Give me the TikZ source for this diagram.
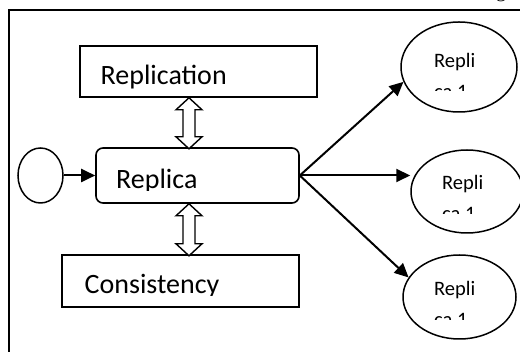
\documentclass[tikz,border=0pt]{standalone}
\usepackage{fontspec}
\setmainfont{Carlito}
\newfontfamily\serifg{Liberation Serif}
\usetikzlibrary{arrows.meta,shapes.geometric,calc}
\tikzset{
  frame/.style={line width=1.9pt},
  boxnode/.style={draw,line width=1.6pt,inner sep=0pt,minimum width=237pt},
  roundbox/.style={draw,line width=1.6pt,inner sep=0pt,rounded corners=7pt},
  oval/.style={draw,ellipse,line width=1.5pt,inner sep=0pt},
  bigtext/.style={inner sep=0pt,anchor=base west,font=\fontsize{28}{34}\selectfont},
  smalltext/.style={inner sep=0pt,anchor=base west,font=\fontsize{20.5}{25}\selectfont},
  flow/.style={line width=2pt,-{Triangle[length=14pt,width=13pt]}},
  hollow/.style={draw,line width=1.4pt,fill=white,line join=miter}
}
\begin{document}
\begin{tikzpicture}[x=1pt,y=1pt]
\useasboundingbox (0,0) rectangle (520,352);
\clip (0,0) rectangle (520,352);
% frame
\coordinate (fb) at (9,-5);
\coordinate (fc) at (9,342);
\coordinate (fr) at (530,342);
\draw[frame] (fb) -- (fc) -- (fr);
\node[inner sep=0pt,anchor=base west,font=\serifg\fontsize{20}{24}\selectfont] (gtxt) at (496,354.5) {g};
% boxes
\node[boxnode,minimum height=51pt] (replication) at (198.5,280.5) {};
\node[roundbox,minimum width=203pt,minimum height=55pt] (replica) at (197.5,176.5) {};
\node[boxnode,minimum height=52pt] (consistency) at (180.5,71) {};
% ovals
\node[oval,minimum width=45pt,minimum height=55pt] (src) at (40.5,176.5) {};
\node[oval,minimum width=116pt,minimum height=90pt] (e1) at (459,285) {};
\node[oval,minimum width=112pt,minimum height=83pt] (e2) at (467,160.5) {};
\node[oval,minimum width=113pt,minimum height=84pt] (e3) at (459.5,55) {};
% texts
\node[bigtext] (t1) at (100.5,267.5) {Replication};
\begin{scope}
\clip (90,161) rectangle (296,200);
\node[bigtext] (t2) at (116,163) {Replica};
\end{scope}
\begin{scope}
\clip (65,56) rectangle (296,94);
\node[bigtext] (t3) at (84.5,58) {Consistency};
\end{scope}
\begin{scope}
\clip (410,261) rectangle (515,320);
\node[smalltext] (e1a) at (434,284.7) {Repli};
\node[smalltext] (e1b) at (434,253.7) {ca 1};
\end{scope}
\begin{scope}
\clip (415,138) rectangle (520,195);
\node[smalltext] (e2a) at (442,162) {Repli};
\node[smalltext] (e2b) at (442,131) {ca 1};
\end{scope}
\begin{scope}
\clip (410,32) rectangle (515,90);
\node[smalltext] (e3a) at (434,56) {Repli};
\node[smalltext] (e3b) at (434,25) {ca 1};
\end{scope}
% connectors
\draw[flow] (src.east) -- (replica.west);
\draw[flow] (replica.east) -- (e1.195);
\draw[flow] (replica.east) -- (replica.east -| e2.west);
\draw[flow] (replica.east) -- (e3.159);
% hollow double arrows
\coordinate (ax) at (189,0);
\coordinate (atop) at (replication.south -| ax);
\coordinate (btop) at (replica.south -| ax);
\draw[hollow] (atop) -- ++(-13,-12) -- ++(7,0) -- ++(0,-27) -- ++(-7,0) -- ++(13,-12)
  -- ++(13,12) -- ++(-7,0) -- ++(0,27) -- ++(7,0) -- cycle;
\draw[hollow] (btop) -- ++(-13,-12) -- ++(7,0) -- ++(0,-28) -- ++(-7,0) -- ++(13,-12)
  -- ++(13,12) -- ++(-7,0) -- ++(0,28) -- ++(7,0) -- cycle;
\end{tikzpicture}
\end{document}
